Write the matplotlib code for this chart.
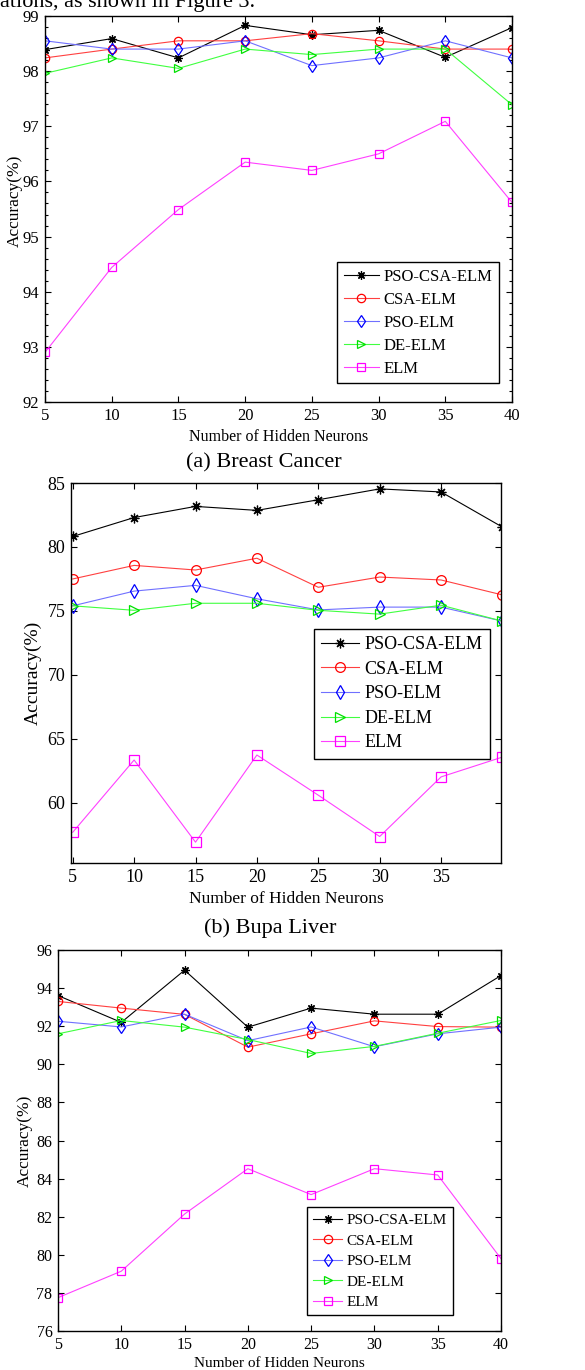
import matplotlib
matplotlib.use('Agg')
import matplotlib.pyplot as plt

plt.rcParams['font.family'] = ['Liberation Serif', 'DejaVu Serif']

W = 585
H = 1370

neurons = [5, 10, 15, 20, 25, 30, 35, 40]
names = ['PSO-CSA-ELM', 'CSA-ELM', 'PSO-ELM', 'DE-ELM', 'ELM']

# (a) Breast Cancer
bc_pso_csa = [98.39, 98.59, 98.24, 98.83, 98.66, 98.74, 98.25, 98.79]
bc_csa = [98.24, 98.40, 98.55, 98.55, 98.68, 98.55, 98.40, 98.40]
bc_pso = [98.55, 98.40, 98.40, 98.55, 98.10, 98.24, 98.55, 98.24]
bc_de = [97.96, 98.24, 98.05, 98.40, 98.30, 98.40, 98.40, 97.39]
bc_elm = [92.90, 94.44, 95.49, 96.35, 96.20, 96.50, 97.09, 95.62]

# (b) Bupa Liver
bl_pso_csa = [80.82, 82.30, 83.17, 82.86, 83.69, 84.54, 84.30, 81.55]
bl_csa = [77.50, 78.56, 78.20, 79.12, 76.85, 77.65, 77.42, 76.25]
bl_pso = [75.40, 76.55, 77.00, 75.95, 75.08, 75.30, 75.30, 74.20]
bl_de = [75.40, 75.05, 75.60, 75.60, 75.05, 74.75, 75.45, 74.20]
bl_elm = [57.70, 63.35, 56.93, 63.74, 60.60, 57.37, 62.03, 63.58]

# (c) third data set
c_pso_csa = [93.61, 92.20, 94.94, 91.95, 92.95, 92.63, 92.63, 94.66]
c_csa = [93.30, 92.95, 92.62, 90.90, 91.60, 92.28, 91.98, 91.95]
c_pso = [92.26, 91.96, 92.63, 91.24, 91.96, 90.92, 91.60, 91.95]
c_de = [91.60, 92.30, 91.95, 91.30, 90.57, 90.94, 91.63, 92.30]
c_elm = [77.75, 79.14, 82.14, 84.52, 83.16, 84.52, 84.19, 79.80]

colors = ['black', '#ff0000', '#0000ff', '#00e000', '#ff00ff']
line_colors = ['black', '#ff4040', '#7070ff', '#40ff40', '#ff40ff']
markers = [(8, 2, 0), 'o', 'd', '>', 's']


def px_rect(x0, y0, x1, y1):
    return [x0 / W, 1 - y1 / H, (x1 - x0) / W, (y1 - y0) / H]


def draw_panel(ax, series, fs, ms, leg_xy, leg_fs, lab_fs, spacing=0.42, hlen=2.1):
    for vals, c, lc, m, name in zip(series, colors, line_colors, markers, names):
        ax.plot(neurons, vals, color=lc, lw=0.8, marker=m, ms=ms,
                mfc='none', mec=c, mew=0.9, label=name)
    ax.tick_params(direction='in', top=True, right=True, length=4,
                   width=0.8, labelsize=fs, pad=4)
    ax.tick_params(which='minor', direction='in', top=True, right=True,
                   length=2.5, width=0.8)
    for sp in ax.spines.values():
        sp.set_linewidth(1.0)
    ax.set_ylabel('Accuracy(%)', fontsize=lab_fs)
    leg = ax.legend(loc='upper left', bbox_to_anchor=leg_xy, borderaxespad=0,
                    fontsize=leg_fs, handlelength=hlen, handletextpad=0.3,
                    labelspacing=spacing, borderpad=0.4, fancybox=False,
                    framealpha=1, edgecolor='black')
    leg.get_frame().set_linewidth(1.0)


fig = plt.figure(figsize=(W / 100, H / 100), dpi=100)

fig.text(0 / W, 1 - 7 / H, 'ations, as shown in Figure 3.', fontsize=16,
         va='baseline', ha='left')

# panel (a)
ax1 = fig.add_axes(px_rect(45, 16, 512, 402))
draw_panel(ax1, [bc_pso_csa, bc_csa, bc_pso, bc_de, bc_elm], 12, 6,
           (0.625, 0.363), 12, 12.5)
ax1.set_xlim(5, 40)
ax1.set_ylim(92, 99)
ax1.set_xticks(neurons)
ax1.set_yticks([92, 93, 94, 95, 96, 97, 98, 99])
ax1.set_yticks([92 + 0.2 * i for i in range(36)], minor=True)
ax1.set_xlabel('Number of Hidden Neurons', fontsize=11.5, labelpad=4)
ax1.yaxis.set_label_coords(-0.047, 0.52)
fig.text(0.5 * (180 + 347) / W, 1 - 463 / H, '(a) Breast Cancer', fontsize=16,
         ha='center', va='center')

# panel (b)
ax2 = fig.add_axes(px_rect(71, 483, 501, 863))
draw_panel(ax2, [bl_pso_csa, bl_csa, bl_pso, bl_de, bl_elm], 13, 7,
           (0.565, 0.616), 13, 14)
ax2.set_xlim(4.86, 39.88)
ax2.set_ylim(55.3, 85)
ax2.set_xticks([5, 10, 15, 20, 25, 30, 35])
ax2.set_yticks([60, 65, 70, 75, 80, 85])
ax2.set_xlabel('Number of Hidden Neurons', fontsize=12.5, labelpad=4)
ax2.yaxis.set_label_coords(-0.067, 0.5)
fig.text(0.5 * (200 + 340) / W, 1 - 928 / H, '(b) Bupa Liver', fontsize=16,
         ha='center', va='center')

# panel (c)
ax3 = fig.add_axes(px_rect(58, 950, 501, 1331))
draw_panel(ax3, [c_pso_csa, c_csa, c_pso, c_de, c_elm], 11.5, 6,
           (0.562, 0.325), 11, 12.5, spacing=0.45, hlen=1.9)
ax3.set_xlim(5, 40)
ax3.set_ylim(76, 96)
ax3.set_xticks(neurons)
ax3.set_yticks([76, 78, 80, 82, 84, 86, 88, 90, 92, 94, 96])
ax3.set_xlabel('Number of Hidden Neurons', fontsize=11, labelpad=3)
ax3.yaxis.set_label_coords(-0.056, 0.5)

fig.savefig('out.png', dpi=100)
